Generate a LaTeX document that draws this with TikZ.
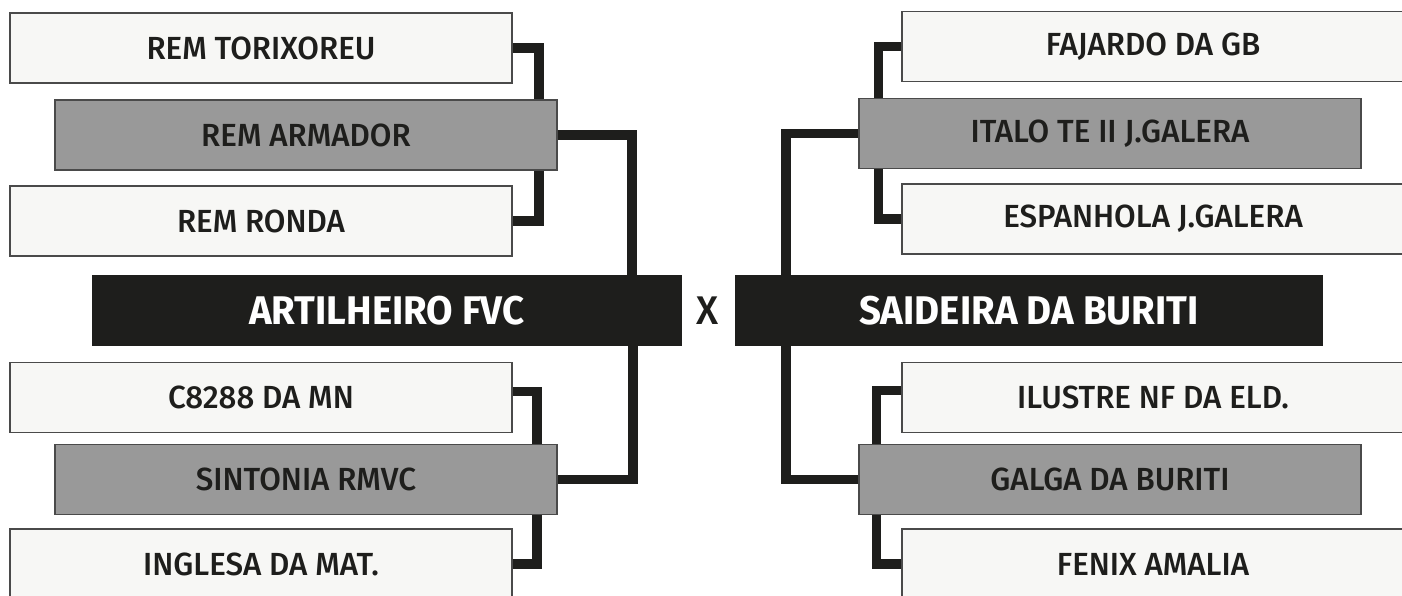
\documentclass[tikz,border=0pt]{standalone}
\usepackage{fontspec}
\setmainfont{Fira Sans}[FakeStretch=0.96]
\newfontfamily\medfont{Fira Sans Medium}[FakeStretch=0.98]
\usepackage{xcolor}
\definecolor{boxfill}{HTML}{F7F7F5}
\definecolor{boxline}{HTML}{4A4A4A}
\definecolor{seedfill}{HTML}{999999}
\definecolor{ink}{HTML}{1E1E1C}
\tikzset{
    team/.style={draw=boxline, line width=1.5pt, fill=boxfill, inner sep=0pt,
        minimum width=502pt, minimum height=70pt, text=ink,
        font=\medfont\fontsize{32}{34}\selectfont},
    seed/.style={team, fill=seedfill},
    finalist/.style={fill=ink, inner sep=0pt, minimum width=590pt,
        minimum height=71pt, text=white, font=\bfseries\fontsize{40}{42}\selectfont},
    link/.style={draw=ink, line width=9.5pt}
}

\begin{document}
\begin{tikzpicture}[x=1pt,y=-1pt]
    \fill[white] (0,0) rectangle (1402,596);
    \useasboundingbox (0,0) rectangle (1402,596);

    % left half of the bracket
    \draw (261,48)    node[team](tor){REM TORIXOREU};
    \draw (306,135)   node[seed](arm){REM ARMADOR};
    \draw (261,221)   node[team](ron){REM RONDA};
    \draw (387,310.5) node[finalist](art){ARTILHEIRO FVC};
    \draw (261,397.5) node[team](c82){C8288 DA MN};
    \draw (306,479.5) node[seed](sin){SINTONIA RMVC};
    \draw (261,564)   node[team](ing){INGLESA DA MAT.};

    % right half of the bracket
    \draw (1153,46.5)  node[team](faj){FAJARDO DA GB};
    \draw (1110,133.5) node[seed](ita){ITALO TE II J.GALERA};
    \draw (1153,219)   node[team](esp){ESPANHOLA J.GALERA};
    \draw (1029,310.5) node[finalist,minimum width=588pt](sai){SAIDEIRA DA BURITI};
    \draw (1153,397.5) node[team](ilu){ILUSTRE NF DA ELD.};
    \draw (1110,479.5) node[seed](gal){GALGA DA BURITI};
    \draw (1153,564)   node[team](fen){FENIX AMALIA};

    \draw (708,311) node[text=ink,font=\medfont\fontsize{40}{42}\selectfont](vs){X};

    \draw[link] (tor.east) -| ([xshift=-19pt]arm.north east);
    \draw[link] ([xshift=-19pt]arm.south east) |- (ron.east);
    \draw[link] (arm.east) -| ([xshift=-50pt]art.north east);
    \draw[link] ([yshift=6pt]c82.east) -| ([xshift=-21pt]sin.north east);
    \draw[link] ([xshift=-21pt]sin.south east) |- (ing.east);
    \draw[link] (sin.east) -| ([xshift=-49pt]art.south east);

    \draw[link] (faj.west) -| ([xshift=20pt]ita.north west);
    \draw[link] ([xshift=20pt]ita.south west) |- (esp.west);
    \draw[link] (ita.west) -| ([xshift=51pt]sai.north west);
    \draw[link] ([yshift=7pt]ilu.west) -| ([xshift=18pt]gal.north west);
    \draw[link] ([xshift=18pt]gal.south west) |- (fen.west);
    \draw[link] (gal.west) -| ([xshift=51pt]sai.south west);
\end{tikzpicture}
\end{document}
